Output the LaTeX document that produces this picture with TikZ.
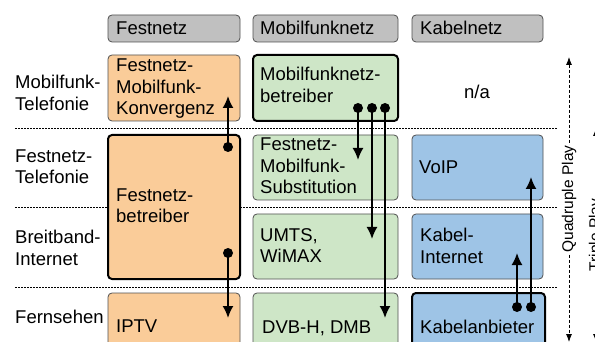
\documentclass[tikz,border=0pt]{standalone}
\usepackage{fontspec}
\setmainfont{Liberation Sans}
\usetikzlibrary{arrows.meta}

\definecolor{hdrgray}{RGB}{192,192,192}
\definecolor{fixfill}{RGB}{250,204,153}
\definecolor{mobfill}{RGB}{206,230,199}
\definecolor{cabfill}{RGB}{158,196,230}
\definecolor{rimgray}{RGB}{80,80,80}

\tikzset{
  cell/.style={rectangle, rounded corners=4pt, draw=rimgray, line width=0.8pt,
    inner sep=0pt, outer sep=0pt},
  owner/.style={cell, draw=black, line width=2pt},
  hdr/.style={cell, fill=hdrgray},
  fixbox/.style={cell, fill=fixfill},
  mobbox/.style={cell, fill=mobfill},
  cabbox/.style={cell, fill=cabfill},
  txt/.style={inner sep=0pt, anchor=west, align=left,
    font=\fontsize{18.5}{21.5}\selectfont,
    execute at begin node=\strut, execute at end node=\strut},
  sep/.style={line width=0.9pt, dash pattern=on 1.6pt off 1.4pt},
  flow/.style={line width=1.8pt, -{Latex[length=12pt,width=11pt]}},
  dot/.style={fill=black},
  span/.style={line width=0.8pt, dash pattern=on 3pt off 2pt,
    {Latex[length=8pt,width=6pt]}-{Latex[length=8pt,width=6pt]}},
  spantxt/.style={fill=white, rotate=90, inner xsep=1pt, inner ysep=2pt,
    font=\fontsize{15.5}{18}\selectfont}
}

\begin{document}
\begin{tikzpicture}[x=1pt, y=-1pt]
\useasboundingbox (0,0) rectangle (595,342);
\clip (0,0) rectangle (595,342);

% column headers
\node[hdr, minimum width=132, minimum height=27] (hF) at (174,28.5) {};
\node[hdr, minimum width=145, minimum height=27] (hM) at (325.5,28.5) {};
\node[hdr, minimum width=131, minimum height=27] (hK) at (477.5,28.5) {};
\node[txt] (hFt) at (116,30) {Festnetz};
\node[txt] (hMt) at (260,30) {Mobilfunknetz};
\node[txt] (hKt) at (420,30) {Kabelnetz};

% row separators
\foreach \y/\n in {128/a, 207/b, 287/c} {
  \coordinate (s\n l) at (15,\y);
  \coordinate (s\n r) at (557,\y);
  \draw[sep] (s\n l) -- (s\n r);
}

% row labels
\node[txt] (r1) at (15,96) {Mobilfunk-\\Telefonie};
\node[txt] (r2) at (15,170) {Festnetz-\\Telefonie};
\node[txt] (r3) at (15,251) {Breitband-\\Internet};
\node[txt] (r4) at (15,319) {Fernsehen};

% fixed-line column
\node[fixbox, minimum width=132, minimum height=66] (konv) at (174,88) {};
\node[fixbox, owner, minimum width=132, minimum height=144] (fnb) at (174,207) {};
\node[fixbox, minimum width=132, minimum height=65] (iptv) at (174,325.5) {};
\node[txt] at (116,90) {Festnetz-\\Mobilfunk-\\Konvergenz};
\node[txt] at (116,209) {Festnetz-\\betreiber};
\node[txt] at (116,328) {IPTV};

% mobile column
\node[mobbox, owner, minimum width=145, minimum height=66] (mnb) at (325.5,88) {};
\node[mobbox, minimum width=145, minimum height=65] (subst) at (325.5,167.5) {};
\node[mobbox, minimum width=145, minimum height=65] (umts) at (325.5,246.5) {};
\node[mobbox, minimum width=145, minimum height=65] (dvb) at (325.5,325.5) {};
\node[txt] at (260,88) {Mobilfunknetz-\\betreiber};
\node[txt] at (260,169) {Festnetz-\\Mobilfunk-\\Substitution};
\node[txt] at (260,249) {UMTS,\\WiMAX};
\node[txt] at (262,329) {DVB-H, DMB};

% cable column
\node[txt, anchor=center] (na) at (477,94) {n/a};
\node[cabbox, minimum width=131, minimum height=65] (voip) at (477.5,167.5) {};
\node[cabbox, minimum width=131, minimum height=65] (kint) at (477.5,246.5) {};
\node[cabbox, owner, minimum width=133, minimum height=65] (kab) at (478.5,325.5) {};
\node[txt] at (419,169) {VoIP};
\node[txt] at (420,249) {Kabel-\\Internet};
\node[txt] at (420,329) {Kabelanbieter};

% service flows
\coordinate (fA) at (228,147);  \coordinate (fAt) at (228,96);
\coordinate (fB) at (228,253);  \coordinate (fBt) at (228,318);
\coordinate (mA) at (358,108);  \coordinate (mAt) at (358,160);
\coordinate (mB) at (372,108);  \coordinate (mBt) at (372,239);
\coordinate (mC) at (385,108);  \coordinate (mCt) at (385,318);
\coordinate (kA) at (517,307);  \coordinate (kAt) at (517,253);
\coordinate (kB) at (531,307);  \coordinate (kBt) at (531,177);

\foreach \s in {fA, fB, mA, mB, mC, kA, kB} {
  \draw[flow] (\s) -- (\s t);
  \fill[dot] (\s) circle (5);
}

% bundle spans
\coordinate (qTop) at (569,57);
\coordinate (qBot) at (569,342);
\draw[span] (qTop) -- (qBot);
\node[spantxt] (qTxt) at (569,199) {Quadruple Play};

\coordinate (tTop) at (596,128);
\coordinate (tBot) at (596,342);
\draw[span] (tTop) -- (tBot);
\node[spantxt] (tTxt) at (596,235) {Triple Play};
\end{tikzpicture}
\end{document}
